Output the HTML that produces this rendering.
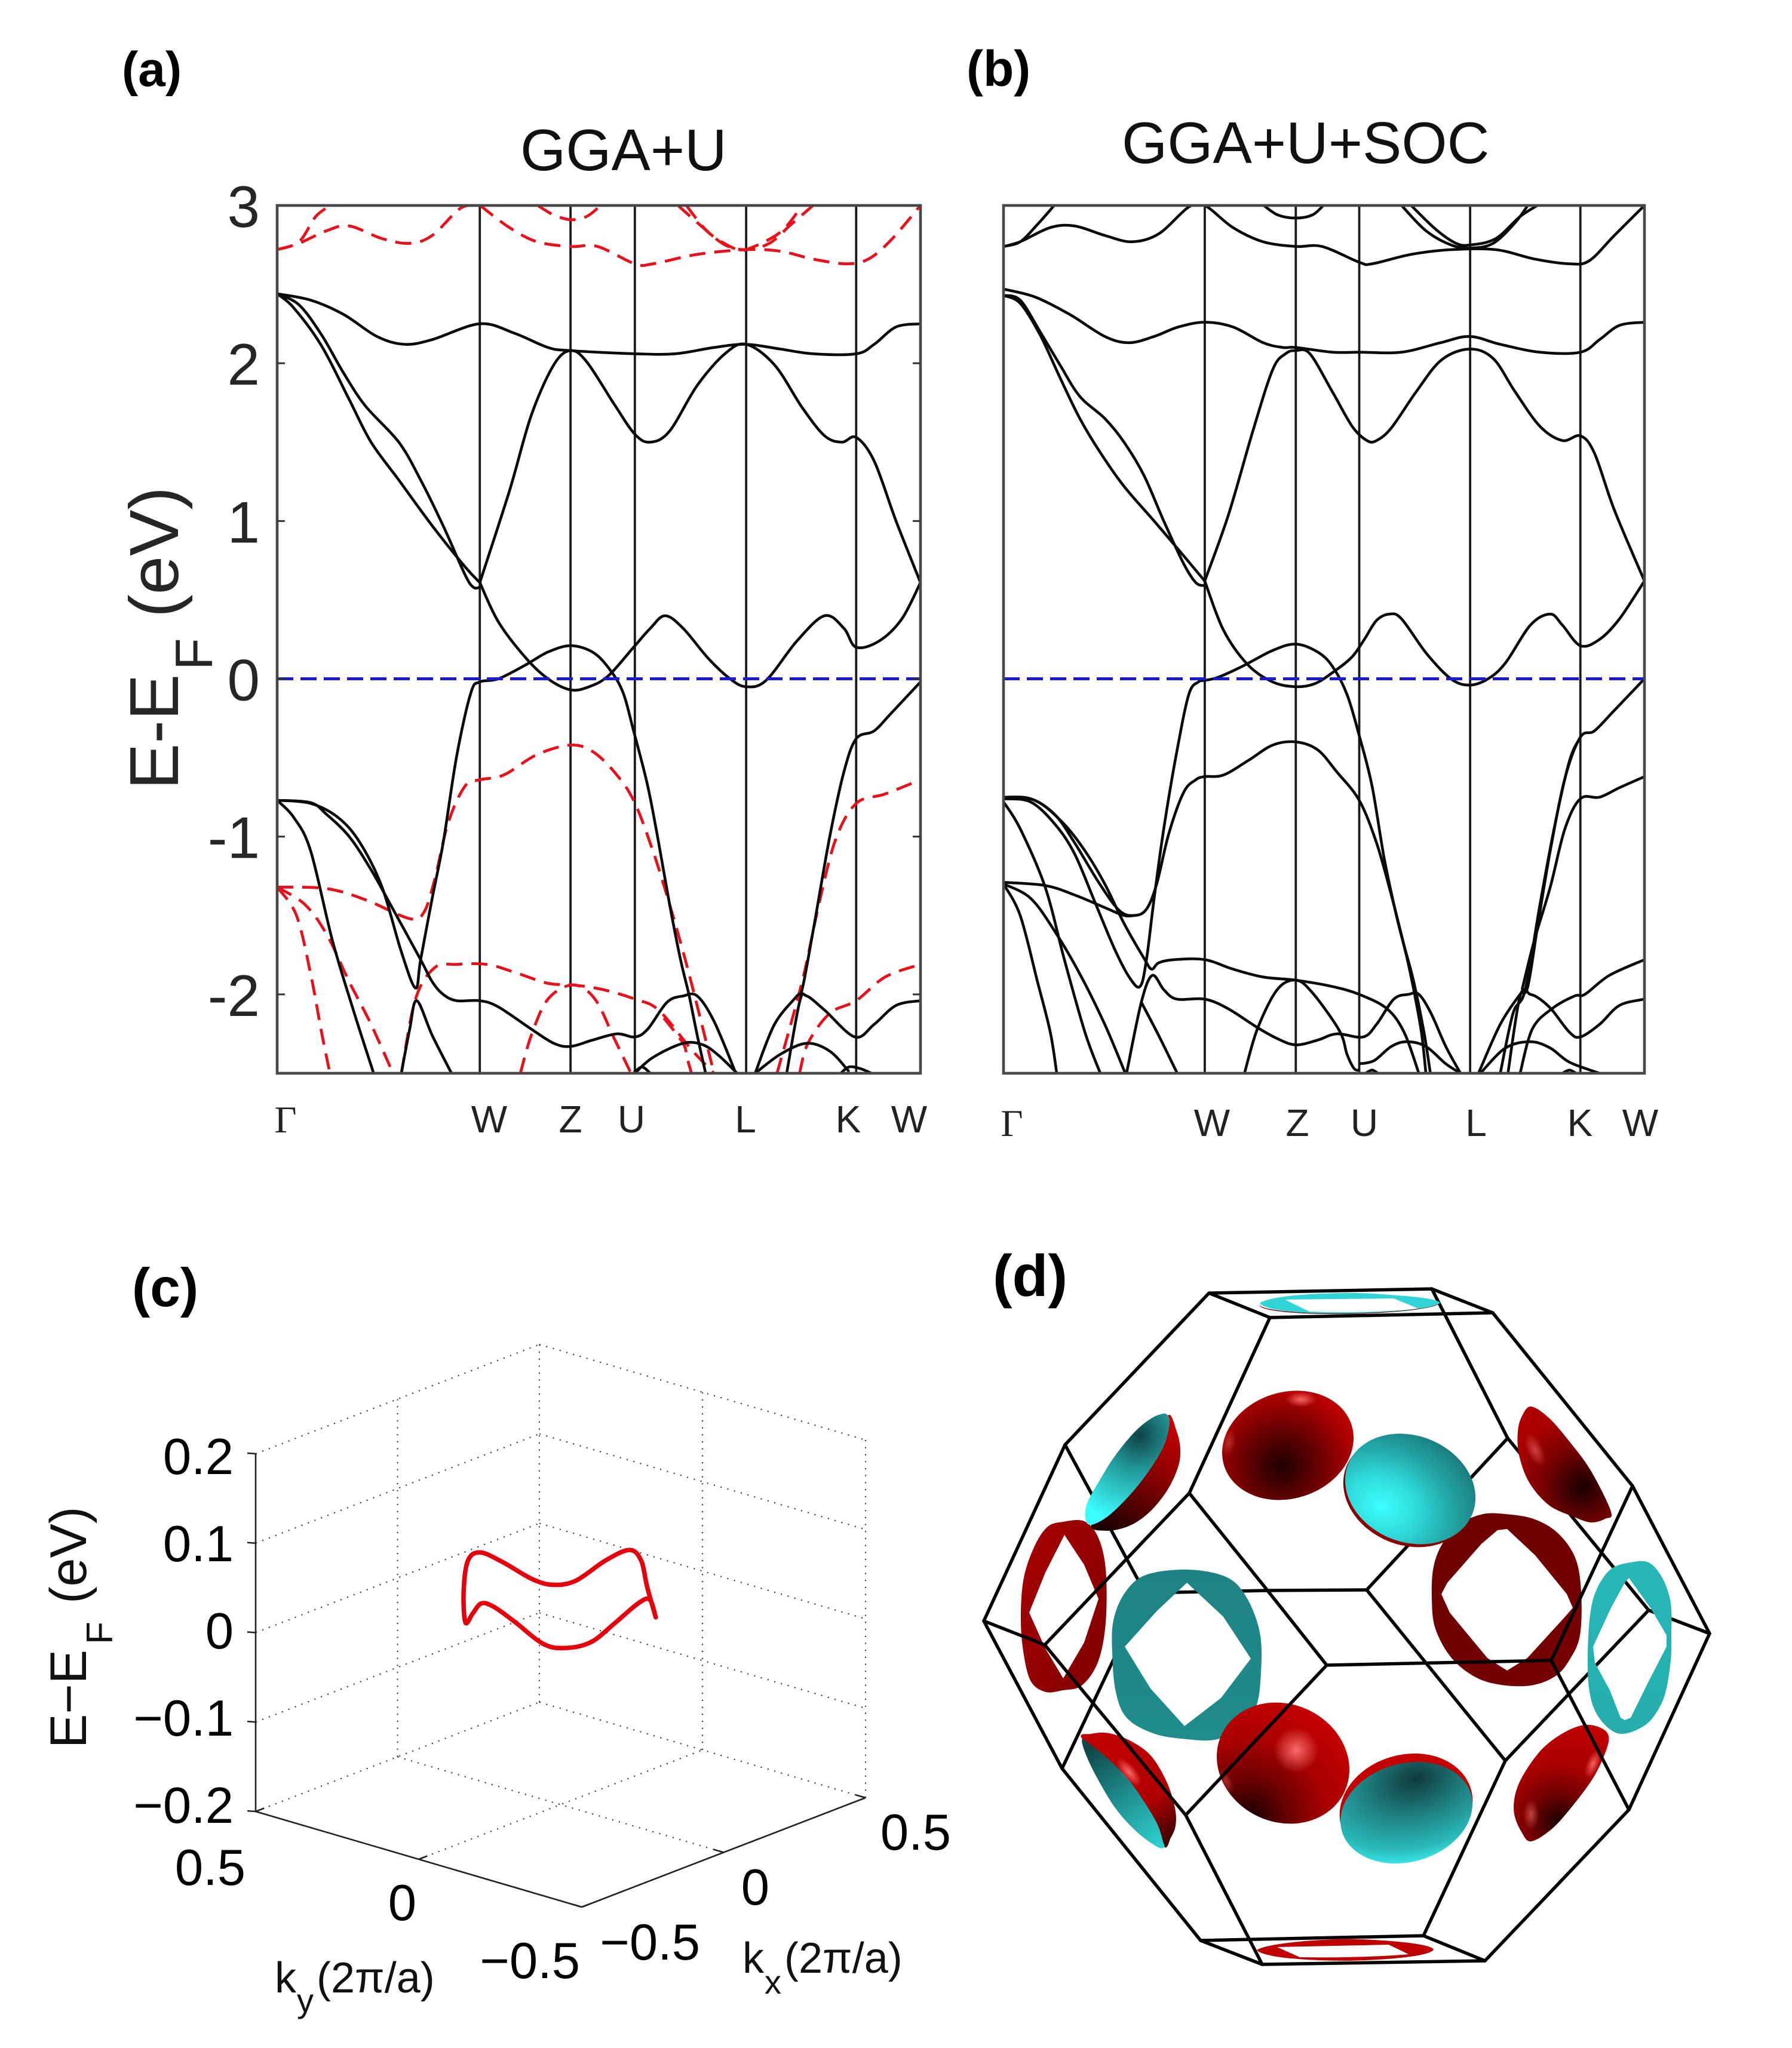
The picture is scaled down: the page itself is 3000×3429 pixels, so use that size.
<!DOCTYPE html>
<html lang="en">
<head>
<meta charset="utf-8">
<title>Band structure and Fermi surface</title>
<style>
html,body{margin:0;padding:0;background:#fff;}
svg{display:block;}
text{font-family:"Liberation Sans",sans-serif;}
</style>
</head>
<body>
<svg id="figure" xmlns="http://www.w3.org/2000/svg" width="3000" height="3429" viewBox="0 0 3000 3429">
<defs>
<clipPath id="clipA"><rect x="464" y="344" width="1077" height="1453"/></clipPath>
<clipPath id="clipB"><rect x="1680" y="344" width="1073" height="1453"/></clipPath>
<radialGradient id="redTop" gradientUnits="userSpaceOnUse" cx="2135" cy="2450" r="128"><stop offset="0" stop-color="#1e0000"/><stop offset="0.5" stop-color="#6a0000"/><stop offset="1" stop-color="#b80000"/></radialGradient>
<radialGradient id="redLow" gradientUnits="userSpaceOnUse" cx="2135" cy="3060" r="215"><stop offset="0" stop-color="#140000"/><stop offset="0.3" stop-color="#6a0000"/><stop offset="0.6" stop-color="#a80000"/><stop offset="1" stop-color="#c80000"/></radialGradient>
<radialGradient id="cyanTop" cx="0.35" cy="0.75" r="0.95"><stop offset="0" stop-color="#3cffff"/><stop offset="0.3" stop-color="#2fd8d8"/><stop offset="0.55" stop-color="#24a8a8"/><stop offset="0.8" stop-color="#1c8282"/><stop offset="1" stop-color="#124f50"/></radialGradient>
<radialGradient id="cyanLow" gradientUnits="userSpaceOnUse" cx="2385" cy="2985" r="150" gradientTransform="translate(2385 2985) scale(1.5 1) translate(-2385 -2985)"><stop offset="0" stop-color="#103a3d"/><stop offset="0.4" stop-color="#1f8080"/><stop offset="0.75" stop-color="#2ab8b8"/><stop offset="1" stop-color="#40ffff"/></radialGradient>
<radialGradient id="glow"><stop offset="0" stop-color="#ff7070" stop-opacity="0.95"/><stop offset="1" stop-color="#ff7070" stop-opacity="0"/></radialGradient>
<radialGradient id="upperRightLens" gradientUnits="userSpaceOnUse" cx="2650" cy="2490" r="125"><stop offset="0" stop-color="#1a0000"/><stop offset="0.55" stop-color="#7a0000"/><stop offset="1" stop-color="#ac0000"/></radialGradient>
<radialGradient id="lowerRightLens" gradientUnits="userSpaceOnUse" cx="2610" cy="3050" r="190"><stop offset="0" stop-color="#1a0000"/><stop offset="0.25" stop-color="#700000"/><stop offset="0.5" stop-color="#a80000"/><stop offset="1" stop-color="#c80000"/></radialGradient>
<linearGradient id="lowerLeftRed" gradientUnits="userSpaceOnUse" x1="1850" y1="2910" x2="1965" y2="3085"><stop offset="0" stop-color="#c00000"/><stop offset="0.62" stop-color="#b00000"/><stop offset="1" stop-color="#300000"/></linearGradient>
<linearGradient id="upperLeftRed" gradientUnits="userSpaceOnUse" x1="1965" y1="2380" x2="1860" y2="2560"><stop offset="0" stop-color="#c80000"/><stop offset="0.5" stop-color="#800000"/><stop offset="1" stop-color="#200000"/></linearGradient>
<radialGradient id="upperLeftCyan" gradientUnits="userSpaceOnUse" cx="1907" cy="2403" r="150"><stop offset="0" stop-color="#104246"/><stop offset="0.4" stop-color="#229a9a"/><stop offset="1" stop-color="#3cffff"/></radialGradient>
<linearGradient id="lowerLeftCyan" gradientUnits="userSpaceOnUse" x1="1825" y1="2925" x2="1945" y2="3090"><stop offset="0" stop-color="#0f4648"/><stop offset="0.5" stop-color="#1f8f8f"/><stop offset="1" stop-color="#2fd0d0"/></linearGradient>
<linearGradient id="ringRedR" x1="0" y1="0" x2="1" y2="1"><stop offset="0" stop-color="#6c0000"/><stop offset="1" stop-color="#760000"/></linearGradient>
<linearGradient id="ringRedL" x1="0" y1="0" x2="1" y2="1"><stop offset="0" stop-color="#a80000"/><stop offset="1" stop-color="#800000"/></linearGradient>
<linearGradient id="ringCyanL" x1="0" y1="0" x2="0" y2="1"><stop offset="0" stop-color="#1d8282"/><stop offset="1" stop-color="#208c8c"/></linearGradient>
<linearGradient id="ringCyanR" x1="0" y1="0" x2="0" y2="1"><stop offset="0" stop-color="#27b8b8"/><stop offset="1" stop-color="#26acac"/></linearGradient>
</defs>

<!-- Panel labels and titles -->
<text x="204" y="144" font-size="82" font-weight="bold" fill="#000">(a)</text>
<text x="1618" y="144" font-size="84" font-weight="bold" fill="#000">(b)</text>
<text x="221" y="2187" font-size="91" font-weight="bold" fill="#000">(c)</text>
<text x="1662" y="2170" font-size="98" font-weight="bold" fill="#000">(d)</text>
<text x="871" y="285" font-size="98" fill="#111">GGA+U</text>
<text x="1878" y="273" font-size="98" fill="#111">GGA+U+SOC</text>

<!-- Panel a axis titles -->
<g fill="#262626">
<text transform="translate(298,1322) rotate(-90)" font-size="116">E-E</text>
<text transform="translate(355,1122) rotate(-90)" font-size="88">F</text>
<text transform="translate(298,1034) rotate(-90)" font-size="116">(eV)</text>
</g>

<!-- k-point labels panel a -->
<g font-size="64" fill="#222" text-anchor="middle">
<text x="478" y="1896" style="font-family:'Liberation Serif',serif">Γ</text>
<text x="819" y="1896">W</text>
<text x="955" y="1896">Z</text>
<text x="1057" y="1896">U</text>
<text x="1248" y="1896">L</text>
<text x="1420" y="1896">K</text>
<text x="1522" y="1896">W</text>
</g>
<!-- k-point labels panel b -->
<g font-size="64" fill="#222" text-anchor="middle">
<text x="1694" y="1902" style="font-family:'Liberation Serif',serif">Γ</text>
<text x="2029" y="1902">W</text>
<text x="2172" y="1902">Z</text>
<text x="2284" y="1902">U</text>
<text x="2471" y="1902">L</text>
<text x="2645" y="1902">K</text>
<text x="2746" y="1902">W</text>
</g>

<g id="panelA"></g>
<g id="panelB"></g>
<g id="panelC"></g>

<!-- Panel c labels -->
<g fill="#111">
<text transform="translate(144,2927) rotate(-90)" font-size="86">E−E</text>
<text transform="translate(188,2753) rotate(-90)" font-size="62">F</text>
<text transform="translate(144,2685) rotate(-90)" font-size="86">(eV)</text>
</g>
<g fill="#111" font-size="72">
<text x="460" y="3336">k</text><text x="497" y="3369" font-size="56">y</text><text x="530" y="3336">(2π/a)</text>
</g>
<g fill="#111" font-size="72">
<text x="1243" y="3303">k</text><text x="1280" y="3338" font-size="56">x</text><text x="1313" y="3303">(2π/a)</text>
</g>
<g fill="#000" font-size="85" text-anchor="end">
<text x="411" y="3156">0.5</text><text x="697" y="3215">0</text><text x="971" y="3312">−0.5</text>
</g>
<g fill="#000" font-size="85" text-anchor="end">
<text x="1172" y="3281">−0.5</text><text x="1288" y="3189">0</text><text x="1592" y="3097">0.5</text>
</g>

<!-- Panel d: Fermi surface in Brillouin zone -->
<g>
<g id="wireBack" stroke="#000" stroke-width="5.5" fill="none" stroke-linecap="round"></g>

<path d="M2109,2183 A151,17 -1 0 0 2411,2180 A151,17 -1 0 1 2109,2186 Z" fill="#7a0000"/>
<path fill-rule="evenodd" fill="#30d4d4" d="M2109,2182 C2130,2166 2250,2163 2300,2166 C2350,2170 2400,2172 2411,2181 C2400,2192 2330,2197 2260,2199 C2190,2200 2120,2196 2109,2182 Z M2151,2176 L2333,2174 L2375,2191 C2320,2197 2250,2198 2192,2196 Z"/>
<path fill-rule="evenodd" fill="#c00000" d="M2104,3265 C2125,3252 2230,3245 2280,3247 C2340,3250 2395,3255 2400,3264 C2395,3275 2330,3281 2260,3283 C2190,3283 2115,3278 2104,3265 Z M2138,3260 L2325,3256 L2358,3272 C2300,3277 2230,3278 2176,3277 Z"/>

<g id="fsSurfaces"></g>

<g id="wireFront" stroke="#000" stroke-width="5.5" fill="none" stroke-linecap="round"></g>
</g>
</svg>

<script>
/* ---------- Panel (a): GGA+U band data, [k(% of path), E(eV)] ---------- */
const aUpperFlat=[[0,2.44],[5.2,2.40],[10.3,2.31],[15.5,2.17],[19.8,2.12],[24.1,2.15],[31.5,2.25],[36.9,2.19],[42.1,2.10],[45.6,2.08],[55.6,2.06],[61.9,2.06],[67.9,2.10],[72.9,2.12],[78.2,2.09],[83.3,2.06],[90,2.06],[92.8,2.12],[96.2,2.23],[100,2.25]];
const aDescentHook=[[0,2.44],[3.4,2.37],[6.9,2.18],[10.3,1.94],[13.7,1.73],[18.9,1.50],[22.3,1.26],[25.8,0.97],[29.2,0.66],[30.5,0.58],[31.5,0.58]];
const aDescentLow=[[0,2.44],[2.6,2.35],[6.9,2.11],[11.2,1.77],[14.6,1.50],[18.9,1.26],[24.1,0.97],[29.2,0.71],[31.5,0.61]];
const aConductionUp=[[31.5,0.61],[36.1,1.19],[39.5,1.67],[43,1.99],[45.6,2.08],[48.1,2.01],[52.4,1.74],[55.6,1.55],[58,1.50],[61,1.57],[65.3,1.86],[69.6,2.06],[72.9,2.12],[77.3,1.99],[81.6,1.72],[85.1,1.54],[87.8,1.50],[90,1.53],[92.8,1.38],[96.2,1.0],[100,0.61]];
const aConductionLow=[[31.5,0.61],[34.4,0.36],[38.7,0.13],[42.1,0],[45.6,-0.07],[48.5,-0.05],[51.5,0.02],[55.4,0.20],[58,0.32],[60.3,0.40],[63.1,0.32],[67,0.13],[70.4,0],[72.9,-0.05],[76,-0.01],[80.8,0.24],[85.1,0.40],[88.1,0.32],[90,0.20],[93.6,0.24],[97.1,0.38],[100,0.61]];
const aValenceTop=[[0,-0.77],[5.2,-0.79],[9.5,-0.88],[12.9,-1.04],[16.3,-1.32],[19.3,-1.73],[21.5,-1.96],[22.3,-1.78],[24.1,-1.39],[25.8,-1.04],[27.9,-0.49],[30.1,-0.09],[31.5,-0.02],[34.4,0],[38.7,0.09],[42.1,0.17],[45.6,0.21],[49,0.17],[51.5,0.07],[53.7,-0.08],[55.4,-0.33],[57.6,-0.68],[59.3,-1.04],[61,-1.43],[62.7,-1.78],[64,-2.0],[65.3,-2.26],[66.6,-2.5]];
const aValenceSecond=[[0,-0.77],[5.2,-0.785],[7.7,-0.86],[11.2,-1.0],[14.6,-1.21],[18,-1.46],[22.3,-1.78],[24.1,-1.92],[25.8,-2.0],[27.9,-2.04],[31.5,-2.04],[34.4,-2.08],[39.5,-2.22],[43,-2.31],[45.6,-2.33],[49,-2.29],[52.8,-2.25],[55.6,-2.27],[57.6,-2.22],[60.6,-2.05],[63.1,-2.01],[65.3,-2.01],[67.9,-2.17],[71.3,-2.5]];
const aCuspPeak=[[19.3,-2.5],[20.6,-2.22],[21.7,-2.04],[24.1,-2.26],[27.1,-2.5]];
const aGammaSteep=[[0,-0.77],[2.6,-0.88],[5.2,-1.09],[8.6,-1.66],[12,-2.12],[15,-2.5]];
const aArcUL=[[55.6,-2.5],[58.4,-2.4],[63.1,-2.31],[66.2,-2.32],[68.7,-2.39],[71.5,-2.5]];
const aSmallArcU=[[55.4,-2.5],[56.7,-2.46],[58,-2.5]];
const aRightSteep=[[74.3,-2.5],[77.3,-2.19],[80.8,-2.01],[81.6,-1.97],[83.3,-1.6],[85.9,-1.0],[88.1,-0.59],[90,-0.38],[92.8,-0.33],[95.4,-0.22],[100,-0.02]];
const aRightSecond=[[79.2,-2.5],[81.2,-2.05],[82.3,-2.01],[85.1,-2.1],[89.8,-2.27],[92.8,-2.19],[96.2,-2.07],[100,-2.04]];
const aArcLK=[[74.3,-2.5],[78.2,-2.38],[82.3,-2.31],[85.9,-2.36],[88.9,-2.49]];
const aSmallArcK=[[87.6,-2.5],[88.9,-2.46],[90.6,-2.47],[92.4,-2.5]];
const aMinorityTop=[[0,2.72],[3.4,2.76],[7.7,2.84],[11.2,2.87],[16.3,2.79],[20.6,2.76],[24.1,2.81],[28.4,2.98],[30.9,3.0],[31.5,3.0],[36.1,2.86],[40.4,2.77],[45.6,2.74],[49.8,2.74],[55.6,2.63],[58.4,2.63],[65.3,2.69],[72.9,2.72],[78.2,2.71],[83.3,2.66],[88.5,2.63],[91.9,2.66],[95.4,2.78],[100,3.0]];
const aMinorityRise=[[0,2.72],[3.4,2.77],[6,2.93],[8.3,3.0]];
const aMinorityZ=[[40.5,3],[43,2.94],[45.6,2.91],[48.1,2.93],[50.3,3]];
const aMinorityL1=[[62.3,3],[66.2,2.86],[69.6,2.75],[72.9,2.72],[76.5,2.76],[79.9,2.88],[83.3,3]];
const aMinorityL2=[[63.6,3],[67,2.83],[70.9,2.73],[72.9,2.72],[78.2,2.83],[81.6,3]];
const aMinorityVal=[[0,-1.32],[7.7,-1.33],[13.7,-1.40],[20.6,-1.52],[22.8,-1.48],[24.5,-1.27],[26.6,-0.91],[29.2,-0.68],[31.5,-0.64],[35.2,-0.61],[40.4,-0.48],[45.6,-0.42],[49,-0.46],[52.4,-0.59],[55.4,-0.77],[58.4,-1.09],[61,-1.43],[63.1,-1.73],[64.9,-2.01],[67.9,-2.5]];
const aMinorityValR=[[77.7,-2.5],[81.6,-1.92],[84.2,-1.43],[86.8,-1.02],[90,-0.79],[94.5,-0.73],[100,-0.64]];
const aMinorityG1=[[0,-1.32],[4.3,-1.43],[7.7,-1.62],[11.2,-1.92],[14.6,-2.19],[18,-2.5]];
const aMinorityG2=[[0,-1.32],[3,-1.50],[5.2,-1.87],[6.9,-2.24],[8.2,-2.5]];
const aMinorityFlat=[[19.3,-2.5],[21.5,-2.03],[24.5,-1.83],[27.9,-1.81],[32.6,-1.81],[36.9,-1.86],[42.1,-1.93],[46,-1.94],[50.7,-1.97],[55.6,-2.03],[59.3,-2.10],[64.4,-2.35],[67.9,-2.5]];
const aMinorityPeakU=[[60.1,-2.15],[63.1,-2.31],[63.7,-2.4],[64.4,-2.5]];
const aMinorityZArc=[[37.8,-2.5],[39.5,-2.26],[42.1,-2.03],[46,-1.94],[49.4,-2.03],[52.4,-2.28],[55,-2.5]];
const aMinorityK=[[81.2,-2.5],[82.5,-2.31],[85.9,-2.12],[90,-2.04],[94.5,-1.89],[100,-1.81]];

const panelASolid=[aUpperFlat,aDescentHook,aDescentLow,aConductionUp,aConductionLow,aValenceTop,aValenceSecond,aCuspPeak,aGammaSteep,aArcUL,aSmallArcU,aRightSteep,aRightSecond,aArcLK,aSmallArcK];
const panelADashed=[aMinorityTop,aMinorityRise,aMinorityZ,aMinorityL1,aMinorityL2,aMinorityVal,aMinorityValR,aMinorityG1,aMinorityG2,aMinorityFlat,aMinorityPeakU,aMinorityZArc,aMinorityK];

/* ---------- Panel (b): GGA+U+SOC band data ---------- */
const bUpperFlat=[[0,2.47],[4.9,2.42],[10.3,2.31],[15.8,2.17],[19.6,2.13],[23.5,2.17],[27.3,2.23],[31.4,2.26],[35.8,2.23],[40.5,2.13],[43.6,2.10],[45.6,2.10],[51.3,2.07],[55.5,2.07],[62.1,2.07],[68.2,2.13],[72.7,2.17],[77.5,2.12],[83.7,2.07],[90,2.07],[93,2.15],[96.1,2.24],[100,2.26]];
const bDescentHook=[[0,2.43],[2.6,2.40],[5.7,2.20],[8.8,1.99],[11.9,1.79],[15.8,1.65],[18.8,1.50],[21.9,1.29],[25,1.0],[28.1,0.73],[30,0.61],[31.4,0.59]];
const bDescentLow=[[0,2.43],[2.6,2.38],[5.7,2.18],[8.8,1.91],[11.9,1.65],[15,1.44],[18.8,1.22],[23.5,1.0],[28.1,0.78],[31.4,0.62]];
const bConductionUp=[[31.4,0.62],[35.1,1.04],[38.9,1.57],[42,1.96],[44,2.06],[45.6,2.08],[47.8,2.06],[51.3,1.82],[54.4,1.60],[56.7,1.51],[58.2,1.51],[60.5,1.59],[64.4,1.82],[68.3,2.02],[72.7,2.09],[76.4,2.03],[79.8,1.82],[83.7,1.60],[87.2,1.51],[90,1.54],[92.2,1.43],[95.3,1.07],[100,0.62]];
const bHighMain=[[0,2.74],[2.6,2.77],[7.3,2.86],[11.1,2.87],[15.8,2.81],[20,2.77],[24.2,2.82],[28.9,2.99],[31.4,3],[35.8,2.86],[40.5,2.77],[45.6,2.74],[49.7,2.74],[55.5,2.64],[57.5,2.63],[63.6,2.69],[69.8,2.72],[76.8,2.72],[82.9,2.66],[88.3,2.63],[91.4,2.65],[95.3,2.81],[100,3]];
const bHighRise=[[0,2.74],[2.6,2.77],[5.3,2.88],[7.9,3]];
const bHighZ=[[40.6,3],[42.8,2.94],[45.6,2.92],[48.2,2.94],[49.9,3]];
const bHighL1=[[62.1,3],[65.9,2.84],[69.8,2.75],[72.9,2.73],[76.4,2.76],[79.8,2.89],[81.8,3]];
const bHighL2=[[63.6,3],[67.4,2.85],[70.6,2.76],[72.9,2.75],[76.8,2.79],[80.6,2.93],[83.3,3]];
const bConductionLow=[[31.4,0.62],[34.3,0.31],[38.1,0.09],[42,-0.02],[45.6,-0.05],[48.6,-0.03],[51.7,0.05],[54.4,0.14],[56.3,0.25],[58.2,0.37],[60.2,0.41],[62.1,0.38],[66,0.16],[69.8,0],[72.7,-0.04],[75.6,0],[78.3,0.10],[82.2,0.34],[85.3,0.41],[87.2,0.34],[90,0.21],[93,0.25],[96.1,0.38],[100,0.62]];
const bValenceA=[[0,-0.75],[4.2,-0.76],[8,-0.86],[11.1,-1.04],[15,-1.30],[18.1,-1.47],[20.4,-1.50],[22.3,-1.46],[23.9,-1.30],[25.8,-0.98],[28.1,-0.72],[30,-0.64],[31.4,-0.62],[34.3,-0.61],[38.1,-0.52],[42,-0.42],[45.6,-0.40],[49,-0.45],[52,-0.59],[55.5,-0.77],[58.2,-1.04],[60.5,-1.37],[62.5,-1.69],[64,-1.92],[65.6,-2.24],[66.6,-2.5]];
const bValenceB=[[0,-0.76],[4.2,-0.78],[8,-0.92],[11.1,-1.11],[14.2,-1.41],[17.3,-1.71],[19.6,-1.89],[21.3,-1.95],[22.3,-1.78],[23.5,-1.39],[25,-0.95],[27,-0.47],[28.9,-0.10],[30.4,-0.02],[31.4,-0.01],[33.5,0.01],[37.3,0.08],[42,0.18],[45.6,0.22],[49,0.17],[51.3,0.08],[53.6,-0.10],[55.5,-0.36],[57.5,-0.68],[59.4,-1.14],[61.3,-1.50],[62.9,-1.76],[64,-1.97],[65.2,-2.24],[65.9,-2.5]];
const bValenceC=[[0,-0.75],[4.9,-0.77],[9.2,-0.91],[12.7,-1.09],[15.8,-1.30],[18.8,-1.55],[21.9,-1.77],[23.1,-1.84],[24.2,-1.80],[26.6,-1.78],[31.4,-1.78],[35.8,-1.84],[40.5,-1.89],[45.6,-1.91],[51.3,-1.95],[55.5,-2.0],[59.8,-2.09],[62.5,-2.24],[64.8,-2.5]];
const bValenceD=[[19.2,-2.5],[21.5,-2.05],[23.2,-1.88],[25,-1.97],[27,-2.03],[31.4,-2.03],[35,-2.09],[39.6,-2.21],[42.7,-2.28],[45.6,-2.32],[49,-2.29],[52,-2.25],[56.1,-2.27],[58.2,-2.19],[60.9,-2.03],[63.2,-2.0],[64.8,-2.0],[66.7,-2.12],[69,-2.33],[71.3,-2.5]];
const bCuspTail=[[21.5,-2.05],[24.2,-2.26],[27.1,-2.5]];
const bGammaF=[[0,-0.78],[2.6,-0.95],[6.5,-1.32],[9.5,-1.78],[12.7,-2.24],[15.1,-2.5]];
const bSplitG=[[0,-1.29],[6.5,-1.31],[11.1,-1.37],[15.8,-1.45],[18.8,-1.50],[20.4,-1.50]];
const bSplitH=[[0,-1.30],[4.2,-1.39],[8,-1.60],[11.9,-1.87],[15.8,-2.19],[19,-2.5]];
const bSplitI=[[0,-1.30],[2.6,-1.50],[5.3,-1.92],[7.3,-2.24],[8.3,-2.5]];
const bZArc=[[37.6,-2.5],[39.6,-2.22],[42.7,-1.97],[45.6,-1.91],[48.2,-1.99],[52.4,-2.23],[53.6,-2.38],[54.7,-2.47],[55.5,-2.48]];
const bArcUL=[[55.5,-2.44],[57.8,-2.42],[60.5,-2.33],[62.9,-2.30],[65.9,-2.33],[69,-2.44],[71.3,-2.5]];
const bSmallArcU=[[56.5,-2.5],[57.5,-2.48],[58.4,-2.5]];
const bRightM=[[74.1,-2.5],[77.5,-2.19],[80.6,-2.0],[81.8,-1.95],[83.4,-1.55],[85.3,-1.09],[87.6,-0.63],[90,-0.37],[92.2,-0.33],[95.3,-0.20],[100,0]];
const bRightN=[[78.7,-2.5],[80.6,-2.01],[82.2,-2.0],[83.7,-2.03],[85.6,-2.10],[88.3,-2.24],[90,-2.27],[93,-2.19],[96.1,-2.07],[100,-2.03]];
const bRightO=[[77.5,-2.5],[79.5,-2.12],[81.4,-1.97],[83.7,-1.43],[86,-0.93],[88.3,-0.52],[90,-0.37]];
const bRightQ=[[80.6,-2.5],[82.5,-2.22],[85.6,-2.09],[89.1,-2.01],[90.7,-2.0],[94.5,-1.88],[100,-1.78]];
const bRightR=[[80.9,-1.97],[82.8,-1.66],[85.3,-1.32],[87.6,-0.95],[90,-0.76],[93,-0.75],[96.1,-0.69],[100,-0.62]];
const bArcLK=[[74.4,-2.5],[78.3,-2.34],[82.2,-2.30],[85.3,-2.34],[88.3,-2.43],[93,-2.5]];
const bSmallArcK=[[87.2,-2.5],[88.3,-2.48],[89.3,-2.5]];

const panelBSolid=[bUpperFlat,bDescentHook,bDescentLow,bConductionUp,bHighMain,bHighRise,bHighZ,bHighL1,bHighL2,bConductionLow,bValenceA,bValenceB,bValenceC,bValenceD,bCuspTail,bGammaF,bSplitG,bSplitH,bSplitI,bZArc,bArcUL,bSmallArcU,bRightM,bRightN,bRightO,bRightQ,bRightR,bArcLK,bSmallArcK];

/* Axes values shared by panels (a) and (b) */
const energyTicks=[3,2,1,0,-1,-2];
const energyTickLabels=["3","2","1","0","-1","-2"];
const symmetryKA=[31.5,45.6,55.6,72.9,90];
const symmetryKB=[31.4,45.6,55.5,72.8,90];
const fermiEnergy=[0];

/* ---------- Panel (c): nodal line data ---------- */
const zTicks=[-0.2,-0.1,0,0.1,0.2];
const zTickLabels=["−0.2","−0.1","0","0.1","0.2"];
const kGridTicks=[-0.5,0,0.5];
const ringKx=[0.156,0.146,0.127,0.088,0.050,0.009,-0.028,-0.076,-0.110,-0.130,-0.144,-0.156,-0.159,-0.152,-0.132,-0.096,-0.047,-0.013,0.025,0.074,0.113,0.132,0.142,0.156];
const ringKy=[-0.156,-0.146,-0.127,-0.088,-0.050,-0.009,0.028,0.076,0.110,0.130,0.144,0.156,0.159,0.152,0.132,0.096,0.047,0.013,-0.025,-0.074,-0.113,-0.132,-0.142,-0.156];
const ringE=[0.007,0.027,0.023,0.001,-0.019,-0.025,-0.020,0.006,0.023,0.027,0.016,0.006,0.040,0.075,0.084,0.073,0.053,0.046,0.050,0.072,0.083,0.071,0.041,0.007];

const NS="http://www.w3.org/2000/svg";
function mk(parent,tag,attrs,name){
  const el=document.createElementNS(NS,tag);
  for(const key in attrs){el.setAttribute(key,attrs[key]);}
  
  
  parent.appendChild(el);
  return el;
}
function smooth(points){
  let d="M"+points[0][0].toFixed(1)+","+points[0][1].toFixed(1);
  for(let i=0;i<points.length-1;i++){
    const p0=points[Math.max(i-1,0)],p1=points[i],p2=points[i+1],p3=points[Math.min(i+2,points.length-1)];
    const c1x=p1[0]+(p2[0]-p0[0])/6,c1y=p1[1]+(p2[1]-p0[1])/6;
    const c2x=p2[0]-(p3[0]-p1[0])/6,c2y=p2[1]-(p3[1]-p1[1])/6;
    d+="C"+c1x.toFixed(1)+","+c1y.toFixed(1)+" "+c2x.toFixed(1)+","+c2y.toFixed(1)+" "+p2[0].toFixed(1)+","+p2[1].toFixed(1);
  }
  return d;
}
function closedSmooth(points){
  const n=points.length;
  let d="M"+points[0][0]+","+points[0][1];
  for(let i=0;i<n;i++){
    const p0=points[(i-1+n)%n],p1=points[i],p2=points[(i+1)%n],p3=points[(i+2)%n];
    const c1x=p1[0]+(p2[0]-p0[0])/6,c1y=p1[1]+(p2[1]-p0[1])/6;
    const c2x=p2[0]-(p3[0]-p1[0])/6,c2y=p2[1]-(p3[1]-p1[1])/6;
    d+="C"+c1x.toFixed(1)+","+c1y.toFixed(1)+" "+c2x.toFixed(1)+","+c2y.toFixed(1)+" "+p2[0]+","+p2[1];
  }
  return d+"Z";
}
function polygonPath(points){
  return "M"+points.map(p=>p[0]+","+p[1]).join("L")+"Z";
}
function drawBands(group,left,right,clipId,solid,dashed,symmetry,ticks,id){
  const top=344,bottom=1797;
  const xScale=k=>left+k/100*(right-left);
  const yScale=e=>top+(3-e)/5.5*(bottom-top);
  const clip=mk(group,'g',{'clip-path':'url(#'+clipId+')'},'plot-area-'+id);
  symmetry.forEach((k,i)=>{
    mk(clip,'line',{x1:xScale(k),x2:xScale(k),y1:top,y2:bottom,stroke:'#1a1a1a','stroke-width':3.8},'symmetry-line-'+id+'-'+i);
  });
  dashed.forEach((band,i)=>{
    mk(clip,'path',{d:smooth(band.map(p=>[xScale(p[0]),yScale(p[1])])),fill:'none',stroke:'#e8101a','stroke-width':4.8,'stroke-dasharray':'27 15'},'minority-band-'+id+'-'+i);
  });
  solid.forEach((band,i)=>{
    mk(clip,'path',{d:smooth(band.map(p=>[xScale(p[0]),yScale(p[1])])),fill:'none',stroke:'#0a0a0a','stroke-width':4.6,'stroke-linejoin':'round'},'band-'+id+'-'+i);
  });
  fermiEnergy.forEach(e=>{
    mk(clip,'line',{x1:left,x2:right,y1:yScale(e),y2:yScale(e),stroke:'#1a1ad6','stroke-width':5,'stroke-dasharray':'27 12'},'fermi-level-'+id);
  });
  mk(group,'rect',{x:left,y:top,width:right-left,height:bottom-top,fill:'none',stroke:'#484848','stroke-width':4.6},'axes-frame-'+id);
  if(ticks){
    energyTicks.forEach((e,i)=>{
      const y=yScale(e);
      if(e!==3){
        mk(group,'line',{x1:left,x2:left+13,y1:y,y2:y,stroke:'#333','stroke-width':3},'y-tick-left-'+i);
        mk(group,'line',{x1:right-13,x2:right,y1:y,y2:y,stroke:'#333','stroke-width':3},'y-tick-right-'+i);
      }
      const label=mk(group,'text',{x:left-29,y:y+36,'text-anchor':'end','font-size':98,fill:'#262626'},'y-tick-label-'+i);
      label.textContent=energyTickLabels[i];
    });
  }
}
drawBands(document.getElementById('panelA'),464,1541,'clipA',panelASolid,panelADashed,symmetryKA,true,'a');
drawBands(document.getElementById('panelB'),1680,2753,'clipB',panelBSolid,[],symmetryKB,false,'b');

/* Panel (c) axis functions */
function projX(kx,ky){return 974+(kx+0.5)*475-(ky+0.5)*546;}
function projY(kx,ky,e){return 3193-(kx+0.5)*183-(ky+0.5)*160-(e+0.2)*1497.5;}
(function(){
  const g=document.getElementById('panelC');
  function seg(a,b,name,style){
    mk(g,'line',Object.assign({x1:projX(a[0],a[1]),y1:projY(a[0],a[1],a[2]),x2:projX(b[0],b[1]),y2:projY(b[0],b[1],b[2])},style),name);
  }
  const dotted={stroke:'#444','stroke-width':2.2,'stroke-dasharray':'2.2 9.5'};
  const solid={stroke:'#222','stroke-width':2.6};
  zTicks.forEach((e,i)=>{
    seg([-0.5,0.5,e],[0.5,0.5,e],'grid-back-left-'+i,dotted);
    seg([0.5,0.5,e],[0.5,-0.5,e],'grid-back-right-'+i,dotted);
  });
  kGridTicks.forEach((k,i)=>{
    if(k>-0.5){seg([k,0.5,-0.2],[k,0.5,0.2],'grid-vertical-left-'+i,dotted);}
    if(k<0.5){seg([0.5,k,-0.2],[0.5,k,0.2],'grid-vertical-right-'+i,dotted);}
  });
  seg([0,0.5,-0.2],[0,-0.5,-0.2],'grid-floor-kx-zero',dotted);
  seg([-0.5,0,-0.2],[0.5,0,-0.2],'grid-floor-ky-zero',dotted);
  seg([-0.5,0.5,-0.2],[-0.5,0.5,0.2],'z-axis-line',solid);
  seg([-0.5,0.5,-0.2],[-0.5,-0.5,-0.2],'ky-axis-line',solid);
  seg([-0.5,-0.5,-0.2],[0.5,-0.5,-0.2],'kx-axis-line',solid);
  zTicks.forEach((e,i)=>{
    const y=projY(-0.5,0.5,e),x=projX(-0.5,0.5);
    mk(g,'line',{x1:x-14,x2:x,y1:y-1,y2:y,stroke:'#222','stroke-width':2.6},'z-tick-'+i);
    const label=mk(g,'text',{x:391,y:2760-e*1460,'text-anchor':'end','font-size':85,fill:'#000'},'z-tick-label-'+i);
    label.textContent=zTickLabels[i];
  });
  kGridTicks.forEach((k,i)=>{
    seg([-0.5,k,-0.2],[-0.47,k,-0.2],'ky-tick-'+i,solid);
    seg([k,-0.5,-0.2],[k,-0.47,-0.2],'kx-tick-'+i,solid);
  });
  const pts=ringKx.map((kx,i)=>[projX(kx,ringKy[i]),projY(kx,ringKy[i],ringE[i])]);
  mk(g,'path',{d:smooth(pts),fill:'none',stroke:'#e6000c','stroke-width':7.5,'stroke-linecap':'round','stroke-linejoin':'round'},'nodal-line-curve');
})();

/* Panel (d) Fermi-surface sheets: a rendered 3D picture, outlines in page pixels */
(function(){
  const host=document.getElementById('fsSurfaces');
  function sheet(name,fill,outer,hole){
    const d=closedSmooth(outer)+(hole?polygonPath(hole):"");
    mk(host,'path',{d:d,fill:fill,'fill-rule':'evenodd'},name);
  }
  function glow(name,cx,cy,rx,ry,rot,opacity){
    mk(host,'ellipse',{cx:cx,cy:cy,rx:rx,ry:ry,transform:'rotate('+rot+' '+cx+' '+cy+')',fill:'url(#glow)',opacity:opacity},name);
  }
  function ellipsoid(name,cx,cy,rx,ry,rot,fill){
    mk(host,'ellipse',{cx:cx,cy:cy,rx:rx,ry:ry,transform:'rotate('+rot+' '+cx+' '+cy+')',fill:fill},name);
  }
  sheet('fs-ring-left-red','url(#ringRedL)',
    [[1780,2548],[1815,2547],[1838,2573],[1851,2627],[1851,2717],[1838,2783],[1811,2822],[1780,2830],[1751,2833],[1727,2817],[1715,2777],[1709,2717],[1713,2647],[1730,2593],[1753,2557]],
    [[1782,2570],[1815,2620],[1839,2677],[1815,2750],[1780,2810],[1750,2760],[1723,2700],[1750,2633]]);
  sheet('fs-ring-centre-left-cyan','url(#ringCyanL)',
    [[1987,2628],[2052,2640],[2086,2673],[2109,2733],[2111,2800],[2102,2860],[2071,2897],[2033,2913],[1987,2912],[1933,2903],[1887,2877],[1868,2833],[1862,2767],[1864,2713],[1883,2667],[1918,2637]],
    [[1987,2650],[2048,2707],[2094,2777],[2044,2843],[1983,2890],[1926,2827],[1883,2757],[1937,2697]]);
  sheet('fs-ring-centre-right-red','url(#ringRedR)',
    [[2520,2535],[2567,2543],[2607,2566],[2637,2608],[2647,2665],[2645,2738],[2627,2780],[2603,2807],[2563,2822],[2513,2821],[2470,2808],[2430,2776],[2403,2727],[2397,2677],[2400,2623],[2417,2581],[2447,2550],[2483,2535]],
    [[2523,2560],[2570,2604],[2623,2669],[2633,2692],[2620,2707],[2557,2776],[2523,2797],[2490,2776],[2427,2700],[2413,2669],[2423,2650],[2480,2585],[2507,2562]]);
  sheet('fs-ring-right-cyan','url(#ringCyanR)',
    [[2730,2616],[2760,2616],[2783,2642],[2797,2684],[2798,2738],[2797,2780],[2787,2838],[2767,2876],[2743,2895],[2713,2903],[2690,2891],[2670,2864],[2660,2826],[2658,2772],[2662,2704],[2673,2661],[2697,2627]],
    [[2727,2642],[2763,2692],[2790,2738],[2790,2757],[2760,2815],[2730,2876],[2720,2880],[2713,2876],[2695,2830],[2670,2784],[2667,2757],[2697,2692],[2720,2650]]);
  sheet('fs-upper-left-outer','url(#upperLeftRed)',
    [[1955,2370],[1970,2397],[1976,2427],[1972,2457],[1953,2497],[1923,2533],[1890,2555],[1853,2563],[1827,2553],[1880,2500],[1930,2440]]);
  sheet('fs-upper-left-inner','url(#upperLeftCyan)',
    [[1947,2367],[1955,2370],[1958,2383],[1950,2417],[1930,2453],[1897,2497],[1857,2537],[1827,2553],[1817,2543],[1820,2517],[1840,2480],[1867,2437],[1900,2397],[1927,2375]]);
  sheet('fs-upper-right-lens','url(#upperRightLens)',
    [[2563,2355],[2593,2374],[2627,2413],[2663,2462],[2697,2531],[2687,2543],[2663,2549],[2633,2539],[2593,2520],[2560,2482],[2543,2436],[2541,2397],[2548,2371]]);
  glow('upper-right-highlight',2570,2428,14,30,-25,0.6);
  ellipsoid('fs-top-red-ellipsoid',2156,2420,112,89,-18,'url(#redTop)');
  glow('top-red-highlight',2178,2343,26,13,0,0.95);
  glow('top-red-side-highlight',2057,2415,12,24,10,0.4);
  ellipsoid('top-cyan-underside',2358,2497,112,90,22,'#8a0000');
  ellipsoid('top-cyan-ellipsoid',2361,2493,112,89,22,'url(#cyanTop)');
  ellipsoid('fs-lower-red-ellipsoid',2148,2952,113.5,98.6,25,'url(#redLow)');
  glow('lower-red-highlight',2170,2930,38,38,0,1);
  glow('lower-red-side-highlight',2053,2983,10,22,-25,0.4);
  ellipsoid('fs-lower-cyan-cap',2354,3027,113,89,-16,'#c40000');
  ellipsoid('fs-lower-cyan-ellipsoid',2354.5,3035,112.4,82.4,-16,'url(#cyanLow)');
  sheet('fs-lower-left-outer','url(#lowerLeftRed)',
    [[1812,2912],[1827,2903],[1857,2902],[1893,2915],[1927,2940],[1953,2983],[1967,3027],[1968,3057],[1960,3077],[1949,3092],[1925,3040],[1880,2975]]);
  sheet('fs-lower-left-inner','url(#lowerLeftCyan)',
    [[1812,2912],[1815,2930],[1833,2970],[1867,3027],[1903,3067],[1937,3092],[1949,3093],[1947,3083],[1937,3053],[1913,3013],[1887,2977],[1853,2943],[1827,2922]]);
  glow('lower-left-highlight',1890,2967,12,30,-40,1);
  sheet('fs-lower-right-lens','url(#lowerRightLens)',
    [[2653,2888],[2680,2893],[2693,2907],[2688,2933],[2667,2977],[2630,3027],[2597,3063],[2563,3083],[2547,3067],[2535,3037],[2537,3003],[2553,2967],[2583,2927],[2620,2900]]);
  glow('lower-right-highlight-low',2563,3038,14,26,0,0.6);
  glow('lower-right-highlight-high',2667,2953,11,26,22,0.9);
})();

/* Panel (d) wireframe */
(function(){
  const V={A:[2024,2165],B:[2397,2158],C:[2499,2198],D:[2126,2206],E:[1783,2419],F:[1991,2500],G:[2524,2408],H:[2733,2488],I:[1647,2714],K:[1749,2754],J:[1917,2667],L:[2122,2663],M:[2288,2662],U:[2760,2696],T:[2862,2735],N:[2221,2788],P:[2597,2780],Q:[1985,3039],R:[2520,2948],S:[2727,3030],Y:[1778,2961],Z:[2010,3249],W:[2383,3241],X:[2113,3289],O:[2486,3283]};
  const back=["AB","BC","CD","DA","AE","DF","BG","CH","EJ","EI","FL","GM","GU","JL","JY","LM","LN","MR","TU","UR"];
  const front=["HP","IK","IY","FK","KQ","NP","NQ","PS","HT","TS","YZ","QX","RW","SO","ZW","WO","OX","XZ"];
  function draw(list,host,prefix){
    list.forEach(edge=>{
      const a=V[edge[0]],b=V[edge[1]];
      mk(host,'line',{x1:a[0],y1:a[1],x2:b[0],y2:b[1]},prefix+'-edge-'+edge.toLowerCase());
    });
  }
  draw(back,document.getElementById('wireBack'),'back');
  draw(front,document.getElementById('wireFront'),'front');
})();
</script>
</body>
</html>
